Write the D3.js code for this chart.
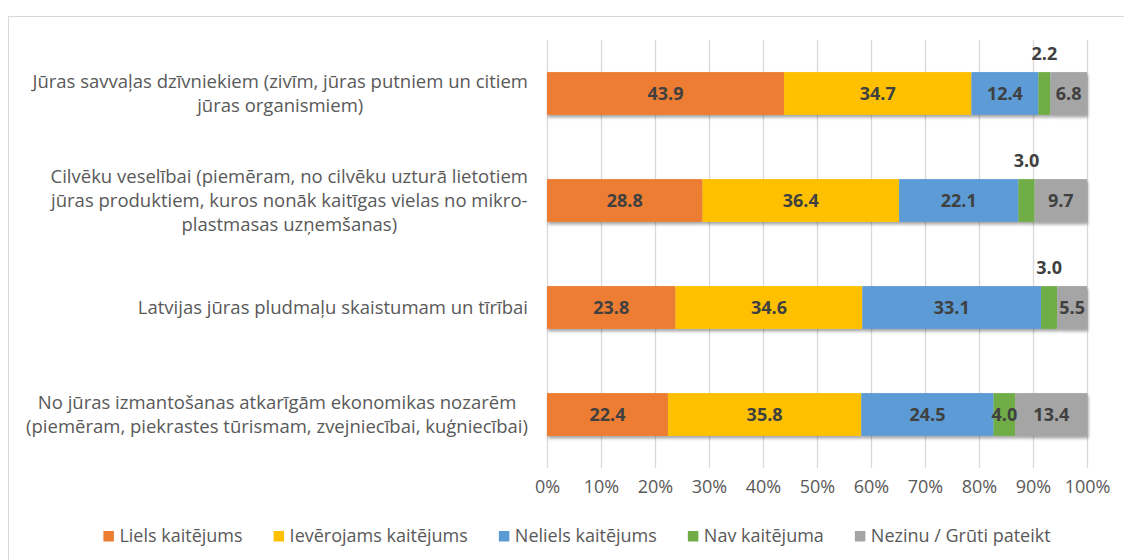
<!DOCTYPE html>
<html>
<head>
<meta charset="utf-8">
<script src="https://cdn.jsdelivr.net/npm/d3@7"></script>
<style>
  body { margin: 0; background: #fff; }
  text { font-family: "Open Sans", "Liberation Sans", Arial, sans-serif; }
</style>
</head>
<body>
<script>
// data
const categories = [
    ["Jūras savvaļas dzīvniekiem (zivīm, jūras putniem un citiem", "jūras organismiem)"],
    ["Cilvēku veselībai (piemēram, no cilvēku uzturā lietotiem", "jūras produktiem, kuros nonāk kaitīgas vielas no mikro-", "plastmasas uzņemšanas)"],
    ["Latvijas jūras pludmaļu skaistumam un tīrībai"],
    ["No jūras izmantošanas atkarīgām ekonomikas nozarēm", "(piemēram, piekrastes tūrismam, zvejniecībai, kuģniecībai)"]
];
const seriesNames = ["Liels kaitējums", "Ievērojams kaitējums", "Neliels kaitējums", "Nav kaitējuma", "Nezinu / Grūti pateikt"];
const liels      = [43.9, 28.8, 23.8, 22.4];
const ieverojams = [34.7, 36.4, 34.6, 35.8];
const neliels    = [12.4, 22.1, 33.1, 24.5];
const nav        = [2.2, 3.0, 3.0, 4.0];
const nezinu     = [6.8, 9.7, 5.5, 13.4];
const tickValues = [0, 10, 20, 30, 40, 50, 60, 70, 80, 90, 100];

// green labels that sit above the bar
const navAbove = [true, true, true, false];

const colors = ["#ED7D31", "#FFC000", "#5B9BD5", "#70AD47", "#A5A5A5"];
const W = 1124, H = 560;
const plot = {left: 547, right: 1087, top: 40, bottom: 468};

const svg = d3.select("body").append("svg")
    .attr("width", W)
    .attr("height", H);

// shadow under the bars
const defs = svg.append("defs");
defs.append("filter")
    .attr("id", "shadow")
    .attr("x", "-5%").attr("y", "-20%")
    .attr("width", "110%").attr("height", "150%")
    .append("feDropShadow")
    .attr("dx", 1).attr("dy", 2.5)
    .attr("stdDeviation", 1.6)
    .attr("flood-color", "#000")
    .attr("flood-opacity", 0.35);

// chart frame
svg.append("rect")
    .attr("x", 8.5).attr("y", 16.5)
    .attr("width", 1300).attr("height", 700)
    .attr("fill", "none")
    .attr("stroke", "#d9d9d9");

const table = categories.map((c, i) => ({
    idx: i,
    s0: liels[i], s1: ieverojams[i], s2: neliels[i], s3: nav[i], s4: nezinu[i]
}));
const keys = ["s0", "s1", "s2", "s3", "s4"];
const stacked = d3.stack().keys(keys)(table);

const xScale = d3.scaleLinear().domain([0, 100]).range([plot.left, plot.right]);
const yScale = d3.scaleBand().domain(d3.range(categories.length))
    .range([plot.top, plot.bottom]).paddingInner(0.6).paddingOuter(0.3);

// gridlines
svg.append("g")
    .selectAll("line")
    .data(tickValues)
    .enter()
    .append("line")
    .attr("x1", d => Math.round(xScale(d)) + 0.5)
    .attr("x2", d => Math.round(xScale(d)) + 0.5)
    .attr("y1", plot.top)
    .attr("y2", plot.bottom)
    .attr("stroke", "#d9d9d9")
    .attr("stroke-width", 1.3);

// x axis tick labels
const xAxis = d3.axisBottom(xScale).tickValues(tickValues)
    .tickFormat(d => d + "%").tickSize(0).tickPadding(0);
const xg = svg.append("g")
    .attr("transform", "translate(0," + 480 + ")")
    .call(xAxis);
xg.select(".domain").remove();
xg.selectAll("text")
    .attr("fill", "#595959")
    .attr("font-size", "18px")
    .attr("font-family", "Open Sans, Liberation Sans, Arial, sans-serif");

// bars
const barG = svg.append("g").attr("filter", "url(#shadow)");
stacked.forEach((layer, k) => {
    barG.selectAll(".bar" + k)
        .data(layer)
        .enter()
        .append("rect")
        .attr("class", "bar" + k)
        .attr("x", d => xScale(d[0]))
        .attr("width", d => xScale(d[1]) - xScale(d[0]))
        .attr("y", d => yScale(d.data.idx))
        .attr("height", yScale.bandwidth())
        .attr("fill", colors[k]);
});

// data labels
stacked.forEach((layer, k) => {
    svg.selectAll(".lab" + k)
        .data(layer)
        .enter()
        .append("text")
        .attr("class", "lab" + k)
        .attr("x", d => (xScale(d[0]) + xScale(d[1])) / 2)
        .attr("y", d => {
            const above = k === 3 && navAbove[d.data.idx];
            return above ? yScale(d.data.idx) - 18 : yScale(d.data.idx) + yScale.bandwidth() / 2;
        })
        .attr("dy", "0.35em")
        .attr("text-anchor", "middle")
        .attr("font-size", "18px")
        .attr("font-weight", "bold")
        .attr("fill", "#404040")
        .text(d => (d[1] - d[0]).toFixed(1));
});

// category labels (centered block, right aligned to the axis)
const LINE_H = 24;
categories.forEach((lines, i) => {
    const g = svg.append("g");
    const cy = yScale(i) + yScale.bandwidth() / 2;
    const texts = lines.map((line, j) => g.append("text")
        .attr("y", cy + (j - (lines.length - 1) / 2) * LINE_H)
        .attr("dy", "0.35em")
        .attr("text-anchor", "middle")
        .attr("font-size", "18.5px")
        .attr("fill", "#595959")
        .text(line));
    const maxW = d3.max(texts, t => t.node().getComputedTextLength());
    texts.forEach(t => t.attr("x", 528 - maxW / 2));
});

// legend
const legend = svg.append("g");
const GAP = 31;
let lx = 0;
seriesNames.forEach((name, k) => {
    const item = legend.append("g").attr("transform", "translate(" + lx + ",0)");
    item.append("rect")
        .attr("x", 0).attr("y", -5)
        .attr("width", 10.5).attr("height", 10.5)
        .attr("fill", colors[k]);
    const t = item.append("text")
        .attr("x", 16)
        .attr("dy", "0.35em")
        .attr("font-size", "18px")
        .attr("fill", "#595959")
        .text(name);
    lx += 16 + t.node().getComputedTextLength() + GAP;
});
const legendW = lx - GAP;
legend.attr("transform", "translate(" + (577 - legendW / 2) + "," + 536 + ")");
</script>
</body>
</html>
